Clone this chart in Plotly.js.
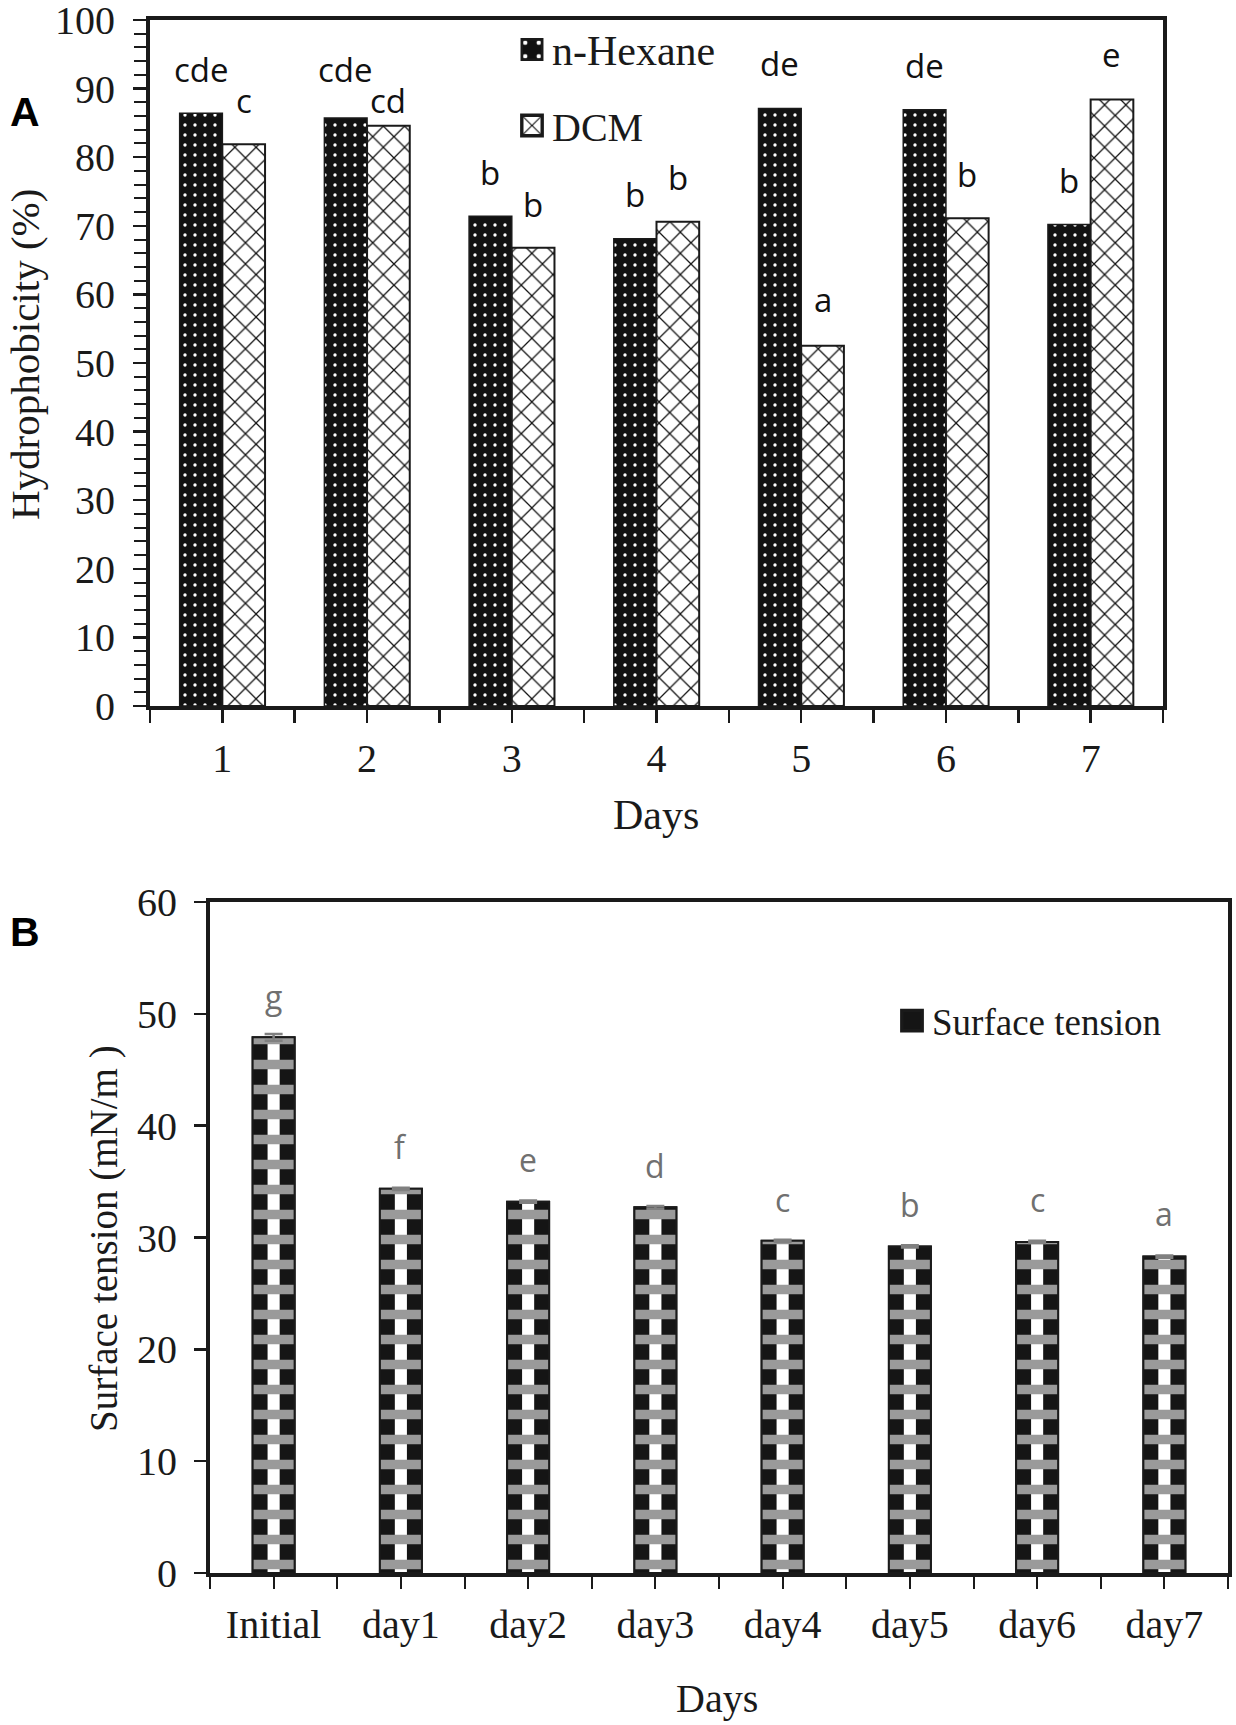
<!DOCTYPE html>
<html>
<head>
<meta charset="utf-8">
<script src="https://cdn.plot.ly/plotly-3.0.1.min.js"></script>
<style>
  html, body { margin: 0; padding: 0; background: #fff; }
  #chart { width: 1236px; height: 1725px; }
</style>
</head>
<body>
<div id="chart"></div>
<script>
// panel A: cell hydrophobicity (%) per day
const days = ["1", "2", "3", "4", "5", "6", "7"];
const hexane = [86.4, 85.7, 71.4, 68.1, 87.1, 86.9, 70.2];
const dcm = [81.9, 84.6, 66.8, 70.6, 52.5, 71.1, 88.4];
const hexaneLetters = ["cde", "cde", "b", "b", "de", "de", "b"];
const dcmLetters = ["c", "cd", "b", "b", "a", "b", "e"];
// where the letters sit (baseline, in % units)
const hexaneLetterY = [90.6, 90.6, 75.7, 72.5, 91.6, 91.2, 74.5];
const dcmLetterY = [86.2, 86.2, 71.0, 74.9, 57.1, 75.4, 92.8];

// panel B: surface tension (mN/m)
const stDays = ["Initial", "day1", "day2", "day3", "day4", "day5", "day6", "day7"];
const surfaceTension = [47.9, 34.35, 33.2, 32.7, 29.7, 29.2, 29.6, 28.3];
const surfaceTensionErr = [0.3, 0.1, 0.1, 0.12, 0.1, 0.1, 0.1, 0.1];
const stLetters = ["g", "f", "e", "d", "c", "b", "c", "a"];
const stLetterY = [50.3, 36.9, 35.8, 35.2, 32.2, 31.7, 32.2, 30.9];

const W = 1236, H = 1725;
const serif = "Liberation Serif, Times New Roman, serif";
const sans = "Open Sans, Arial, sans-serif";
const ink = "#1a1a1a";

const gapA = 0.41;           // bargap in panel A
const halfA = (1 - gapA) / 4; // offset of each bar centre from the day tick
const widthB = 0.33;
const stripeB = 0.095;       // white middle stripe of the B bars

const xA = days.map((d, i) => i + 1);
const xB = stDays.map((d, i) => i);

function px(x) { return x / W; }
function py(y) { return 1 - y / H; }

const data = [
  {
    type: "bar", name: '<span style="font-size:42px">n-Hexane</span>', x: xA, y: hexane,
    xaxis: "x", yaxis: "y", legendgroup: "hex", legend: "legend",
    marker: {
      color: "#111",
      line: { color: ink, width: 1.5 },
      pattern: { shape: ".", bgcolor: "#111", fgcolor: "#fff", size: 10, solidity: 0.09 },
    },
    hoverinfo: "y",
  },
  {
    type: "bar", name: "DCM", x: xA, y: dcm,
    xaxis: "x", yaxis: "y", legendgroup: "dcm", legend: "legend",
    marker: {
      color: "#fff",
      line: { color: ink, width: 2 },
      pattern: { shape: "x", bgcolor: "#fff", fgcolor: "#111", size: 15, solidity: 0.16 },
    },
    hoverinfo: "y",
  },
  {
    type: "bar", name: "Surface tension", x: xB, y: surfaceTension,
    xaxis: "x2", yaxis: "y2", legend: "legend2",
    width: widthB, offset: -widthB / 2,
    marker: { color: "#151515", line: { color: ink, width: 2 } },
    hoverinfo: "y",
  },
  {
    // white middle stripe
    type: "bar", x: xB, y: surfaceTension, showlegend: false,
    xaxis: "x2", yaxis: "y2",
    width: stripeB, offset: -stripeB / 2,
    marker: { color: "#fff", line: { width: 0 } },
    hoverinfo: "skip",
  },
  {
    // checker bands across the striped bars
    type: "bar", x: xB, y: surfaceTension, showlegend: false,
    xaxis: "x2", yaxis: "y2",
    width: widthB, offset: -widthB / 2,
    marker: {
      color: "rgba(0,0,0,0)",
      line: { color: ink, width: 2 },
      pattern: { shape: "-", bgcolor: "rgba(0,0,0,0)", fgcolor: "#9a9a9a", fgopacity: 1, size: 25, solidity: 0.38 },
    },
    error_y: { type: "data", array: surfaceTensionErr, color: "#808080", thickness: 2.5, width: 9 },
    hoverinfo: "skip",
  },
];

const annotations = [];
days.forEach((d, i) => {
  annotations.push({
    xref: "x", yref: "y", x: xA[i] - halfA, y: hexaneLetterY[i], text: hexaneLetters[i],
    showarrow: false, xanchor: "center", yanchor: "bottom", yshift: -10,
    font: { family: sans, size: 33, color: "#111" },
  });
  annotations.push({
    xref: "x", yref: "y", x: xA[i] + halfA, y: dcmLetterY[i], text: dcmLetters[i],
    showarrow: false, xanchor: "center", yanchor: "bottom", yshift: -10,
    font: { family: sans, size: 33, color: "#111" },
  });
});
stDays.forEach((d, i) => {
  annotations.push({
    xref: "x2", yref: "y2", x: xB[i], y: stLetterY[i], text: stLetters[i],
    showarrow: false, xanchor: "center", yanchor: "bottom", yshift: -10,
    font: { family: sans, size: 32, color: "#707070" },
  });
});

// axis titles and panel tags
annotations.push(
  { xref: "paper", yref: "paper", x: px(25), y: py(355), text: "Hydrophobicity (%)", textangle: -90,
    showarrow: false, xanchor: "center", yanchor: "middle", font: { family: serif, size: 41, color: ink } },
  { xref: "paper", yref: "paper", x: px(656), y: py(815), text: "Days",
    showarrow: false, xanchor: "center", yanchor: "middle", font: { family: serif, size: 42, color: ink } },
  { xref: "paper", yref: "paper", x: px(104), y: py(1239), text: "Surface tension (mN/m )", textangle: -90,
    showarrow: false, xanchor: "center", yanchor: "middle", font: { family: serif, size: 39, color: ink } },
  { xref: "paper", yref: "paper", x: px(717), y: py(1698), text: "Days",
    showarrow: false, xanchor: "center", yanchor: "middle", font: { family: serif, size: 40, color: ink } },
  { xref: "paper", yref: "paper", x: px(25), y: py(112), text: "<b>A</b>",
    showarrow: false, xanchor: "center", yanchor: "middle", font: { family: "Liberation Sans, Arial, sans-serif", size: 41, color: "#000" } },
  { xref: "paper", yref: "paper", x: px(25), y: py(932), text: "<b>B</b>",
    showarrow: false, xanchor: "center", yanchor: "middle", font: { family: "Liberation Sans, Arial, sans-serif", size: 41, color: "#000" } }
);

const halfTicksA = [];
const halfTextA = [];
for (let v = 0.5; v <= days.length + 0.5; v += 0.5) {
  halfTicksA.push(v);
  halfTextA.push(Number.isInteger(v) ? days[v - 1] : "");
}
const halfTicksB = [];
const halfTextB = [];
for (let v = -0.5; v <= stDays.length - 0.5; v += 0.5) {
  halfTicksB.push(v);
  halfTextB.push(Number.isInteger(v) ? stDays[v] : "");
}

const tickFont = { family: serif, size: 40, color: ink };
const frame = { showline: true, linecolor: ink, linewidth: 4, mirror: true, zeroline: false, showgrid: false, fixedrange: true };

const layout = {
  width: W, height: H,
  margin: { l: 0, r: 0, t: 0, b: 0 },
  paper_bgcolor: "#fff", plot_bgcolor: "#fff",
  barmode: "group", bargap: gapA, bargroupgap: 0,
  showlegend: true,
  xaxis: Object.assign({}, frame, {
    domain: [px(150), px(1163)], anchor: "y", range: [0.5, days.length + 0.5],
    tickmode: "array", tickvals: halfTicksA, ticktext: halfTextA,
    ticks: "outside", ticklen: 13, tickwidth: 2.5, tickcolor: ink,
    ticklabelstandoff: 1, tickfont: tickFont,
  }),
  yaxis: Object.assign({}, frame, {
    domain: [py(706), py(20)], anchor: "x", range: [0, 100],
    tickmode: "linear", tick0: 0, dtick: 10,
    ticks: "outside", ticklen: 13, tickwidth: 2.5, tickcolor: ink,
    minor: { dtick: 2, ticks: "outside", ticklen: 12, tickwidth: 2, tickcolor: ink },
    ticklabelstandoff: 10, ticklabeloverflow: "allow", tickfont: tickFont,
  }),
  xaxis2: Object.assign({}, frame, {
    domain: [px(210), px(1228)], anchor: "y2", range: [-0.5, stDays.length - 0.5],
    tickmode: "array", tickvals: halfTicksB, ticktext: halfTextB,
    ticks: "outside", ticklen: 12, tickwidth: 2, tickcolor: ink,
    ticklabelstandoff: 1, tickfont: tickFont,
  }),
  yaxis2: Object.assign({}, frame, {
    domain: [py(1573), py(902)], anchor: "x2", range: [0, 60],
    tickmode: "linear", tick0: 0, dtick: 10,
    ticks: "outside", ticklen: 12, tickwidth: 2.5, tickcolor: ink,
    ticklabelstandoff: 9, tickfont: tickFont,
  }),
  legend: {
    x: px(512), y: py(17), xanchor: "left", yanchor: "top",
    bgcolor: "rgba(0,0,0,0)", borderwidth: 0,
    font: { family: serif, size: 40, color: ink },
    tracegroupgap: 21, traceorder: "grouped",
  },
  legend2: {
    x: px(892), y: py(990), xanchor: "left", yanchor: "top",
    bgcolor: "rgba(0,0,0,0)", borderwidth: 0,
    font: { family: serif, size: 37, color: ink },
  },
  annotations: annotations,
};

Plotly.newPlot("chart", data, layout, { staticPlot: true }).then(function (gd) {
  // the legend swatches in the figure are larger than plotly's 12px squares
  gd.querySelectorAll(".legendpoints path").forEach(function (p) {
    const t = p.getAttribute("transform") || "";
    p.setAttribute("transform", t + " scale(1.7)");
  });
});
</script>
</body>
</html>
